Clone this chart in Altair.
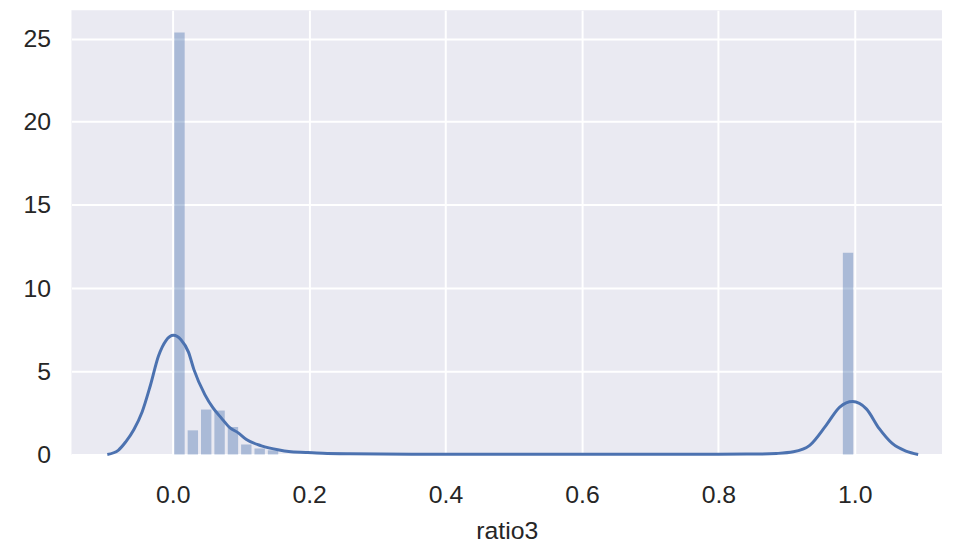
import altair as alt
import pandas as pd

# Histogram (density) bins
bin_start = [0.0, 0.0196, 0.0392, 0.0588, 0.0784, 0.098, 0.1176, 0.1372, 0.9804]
bin_height = [25.36, 1.45, 2.70, 2.64, 1.65, 0.60, 0.36, 0.25, 12.13]
BIN_W = 0.0196

# KDE curve
kde_x = [-0.096, -0.08, -0.069, -0.057, -0.045, -0.033, -0.021, -0.010, 0.001, 0.012,
         0.023, 0.031, 0.047, 0.059, 0.071, 0.084, 0.096, 0.108, 0.130, 0.156,
         0.170, 0.195, 0.22, 0.26, 0.35, 0.5, 0.65, 0.8, 0.86, 0.885,
         0.91, 0.934, 0.958, 0.978, 0.997, 1.017, 1.036, 1.055, 1.075, 1.093]
kde_y = [0.0, 0.25, 0.76, 1.5, 2.55, 4.13, 5.92, 6.85, 7.16, 6.9,
         6.15, 5.1, 3.6, 2.8, 2.2, 1.6, 1.3, 0.9, 0.52, 0.27,
         0.18, 0.12, 0.07, 0.04, 0.02, 0.02, 0.02, 0.02, 0.03, 0.06,
         0.16, 0.55, 1.75, 2.85, 3.18, 2.74, 1.55, 0.66, 0.2, 0.0]

x_ticks = [0.0, 0.2, 0.4, 0.6, 0.8, 1.0]
y_ticks = [0, 5, 10, 15, 20, 25]

hist_df = pd.DataFrame({"start": bin_start, "height": bin_height})
kde_df = pd.DataFrame({"x": kde_x, "y": kde_y})

BLUE = "#4C72B0"
FONT = "Liberation Sans"

x_scale = alt.Scale(domain=[-0.1486, 1.128], nice=False, zero=False)
y_scale = alt.Scale(domain=[0, 26.7], nice=False)

x_axis = alt.Axis(values=x_ticks, format=".1f", title="ratio3", grid=True,
                  gridColor="white", gridWidth=2, domain=False, ticks=False,
                  tickSize=0, labelPadding=28, labelFontSize=25, labelColor="#262626",
                  labelFont=FONT, titleFont=FONT, titleFontSize=25,
                  titleFontWeight="normal", titleColor="#262626", titlePadding=12)
y_axis = alt.Axis(values=y_ticks, format="d", title=None, grid=True,
                  gridColor="white", gridWidth=2, domain=False, ticks=False,
                  tickSize=0, labelPadding=21, labelFontSize=25, labelColor="#262626",
                  labelFont=FONT)

bars = alt.Chart(hist_df).transform_calculate(
    end=f"datum.start + {BIN_W}"
).mark_bar(color=BLUE, opacity=0.4, xOffset=1.5, x2Offset=-1.5).encode(
    x=alt.X("start:Q", scale=x_scale, axis=x_axis),
    x2="end:Q",
    y=alt.Y("height:Q", scale=y_scale, axis=y_axis),
    y2=alt.datum(0),
)

line = alt.Chart(kde_df).mark_line(color=BLUE, strokeWidth=3, interpolate="monotone").encode(
    x=alt.X("x:Q", scale=x_scale),
    y=alt.Y("y:Q", scale=y_scale),
)

chart = alt.layer(bars, line).properties(
    width=878, height=448,
    autosize=alt.AutoSizeParams(type="none"),
    padding={"left": 64, "top": 0, "right": 3, "bottom": 87},
    background="white",
).configure_view(fill="#EAEAF2", strokeWidth=0)

chart.save("out.html", embed_options={"renderer": "svg", "actions": False})
